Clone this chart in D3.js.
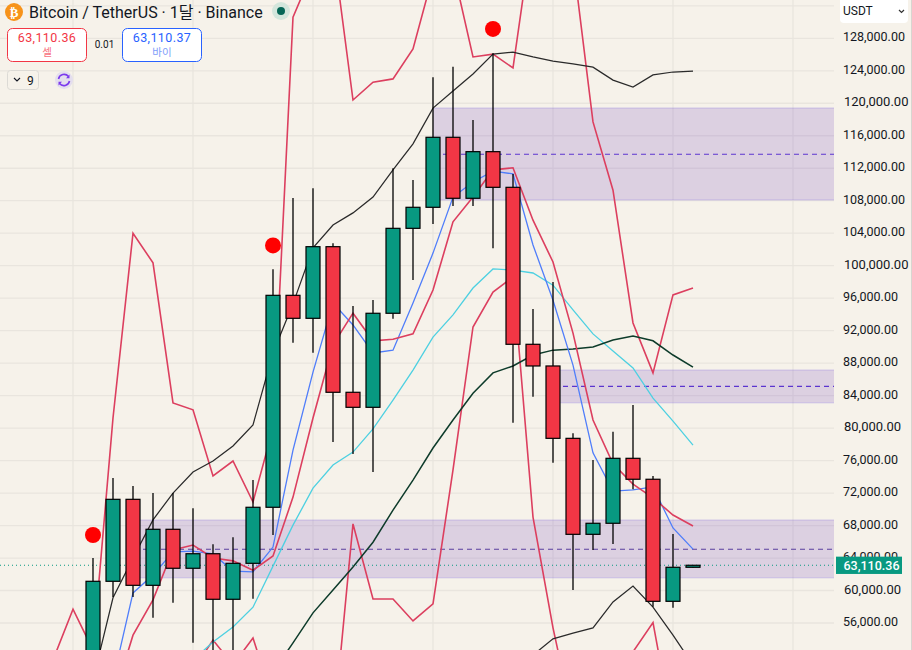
<!DOCTYPE html>
<html>
<head>
<meta charset="utf-8">
<script src="https://cdn.jsdelivr.net/npm/d3@7"></script>
<style>
  html, body { margin: 0; padding: 0; background: #f6f2ea; overflow: hidden; }
  svg { display: block; }
  text { font-family: Roboto, "Noto Sans CJK KR", sans-serif; }
</style>
</head>
<body>
<svg id="chart" width="912" height="650"></svg>
<script>
// candles, oldest first, first candle sits at index 0
const opens  = [48000, 61135, 71230, 60640, 67540, 62740, 64530, 58920, 63350, 70250, 96350, 93520, 102340, 84410, 82560, 94140, 104600, 107190, 115810, 108300, 114040, 109650, 90320, 87650, 78740, 66920, 68280, 76280, 73700, 58670, 62860];
const closes = [61135, 71230, 60640, 67540, 62740, 64530, 58920, 63350, 70250, 96350, 93520, 102340, 84410, 82560, 94140, 104600, 107190, 115810, 108300, 114040, 109650, 90320, 87650, 78740, 66920, 68280, 76280, 73700, 58670, 62860, 63110];
const highs  = [64000, 73850, 72870, 72010, 72010, 70120, 65690, 66550, 73610, 99550, 108330, 109530, 102760, 95030, 95770, 111990, 110550, 123200, 124500, 117940, 126150, 111290, 94670, 97990, 79360, 76070, 79560, 82840, 74100, 66960, 63110];
const lows   = [45000, 59200, 59200, 56650, 58500, 53570, 50830, 49600, 58990, 66840, 90520, 89290, 78290, 76800, 74590, 93470, 98240, 105130, 107350, 107350, 102140, 80670, 83870, 75740, 60060, 64990, 65730, 72460, 58010, 57880, 62840];

// indicator lines, each with the index of its first value
const upperBand = [48980, 59100, 64000, 68700, 72000, 74600, 75950, 77800, 80400, 89250, 95300, 102200, 105000, 106500, 108450, 111800, 115000, 119400, 121500, 123600, 126050, 126300, 125700, 125200, 124850, 124450, 122850, 122000, 123500, 123850, 123950];
const lowerBand = [52050, 54050, 54750, 55400, 58600, 60550, 57950, 54500, 50850];
const redTop = [51450, 57700, 52650, 81250, 104000, 100350, 83100, 82250, 74100, 75950, 70900, 80000, 130600, 136400, 139250, 120400, 122600, 123000, 126700, 135800, 136550, 125700, 126050, 124350, 141600, 140100, 137650, 117700, 109300, 92950, 86800, 96400, 97250];
const redLow = [50200, 53900, 50850, 54150, 46500, 44050, 42800, 42350, 68200, 58950, 58950, 56250, 58350, 74850, 92450, 96750, 98600, 69050, 55400, 44050, 42800, 46500, 52450, 56050, 42700];
const redFast = [46500, 54500, 58850, 65000, 65600, 64000, 63650, 62500, 64250, 71500, 81250, 90250, 94150, 90750, 90950, 91600, 97000, 105400, 108450, 111800, 112050, 105600, 100450, 91700, 81000, 75600, 73100, 71400, 69300, 67950];
const blueLine = [49000, 59700, 61900, 64750, 64850, 64500, 62400, 62300, 65350, 77300, 86900, 95400, 92700, 89250, 89600, 95400, 101550, 108450, 110300, 111650, 111300, 102550, 95750, 87750, 76950, 72250, 72400, 72750, 67700, 65100];
const cyanLine = [49000, 51450, 53650, 55500, 57950, 63000, 68050, 72600, 75450, 77050, 79900, 83450, 87150, 91200, 93950, 97250, 99600, 99450, 99100, 97600, 94550, 91600, 89500, 87400, 83700, 80850, 77900];
const darkLine = [49950, 53550, 57250, 60050, 62900, 65950, 69900, 73600, 77550, 81000, 84300, 86800, 87650, 89000, 89600, 89750, 90000, 90850, 91350, 90750, 89000, 87500];

// zones: start index, top, bottom, dashed mid line
const zoneStart  = [2, 17, 23];
const zoneTop    = [68680, 119420, 87150];
const zoneBottom = [61580, 108090, 83130];
const zoneMid    = [65080, 113720, 85150];

// red signal dots
const dotIndex = [0, 9, 20];
const dotPrice = [66840, 102490, 129150];

const lastPrice = 63110.36;
const priceTicks = d3.range(56000, 128001, 4000);
const gridPrices = d3.range(56000, 132001, 4000);
const gridIndex = [-1, 5, 11, 17, 23, 29, 35];

const green = "#089981";
const red = "#f23645";
const plotRight = 834;

const x = d3.scaleLinear().domain([0, 30]).range([93, 693]);
const y = d3.scaleLinear().domain([56000, 128000]).range([623, 38.3]);

const svg = d3.select("#chart");

svg.append("defs").append("clipPath").attr("id", "plot")
   .append("rect").attr("width", plotRight).attr("height", 650);

const plot = svg.append("g").attr("clip-path", "url(#plot)");

// grid
plot.append("g").selectAll("line").data(gridPrices).enter().append("line")
    .attr("x1", 0).attr("x2", plotRight)
    .attr("y1", d => y(d)).attr("y2", d => y(d))
    .attr("stroke", "#e9e5de").attr("stroke-width", 1.3);
plot.append("g").selectAll("line").data(gridIndex).enter().append("line")
    .attr("x1", d => x(d)).attr("x2", d => x(d))
    .attr("y1", 0).attr("y2", 650)
    .attr("stroke", "#e9e5de").attr("stroke-width", 1.3);

// zones
zoneStart.forEach((start, i) => {
  plot.append("rect")
      .attr("x", x(start))
      .attr("y", y(zoneTop[i]))
      .attr("width", plotRight - x(start))
      .attr("height", y(zoneBottom[i]) - y(zoneTop[i]))
      .attr("fill", "rgba(126,87,194,0.22)");
  plot.append("line")
      .attr("x1", x(start)).attr("x2", plotRight)
      .attr("y1", y(zoneTop[i])).attr("y2", y(zoneTop[i]))
      .attr("stroke", "rgba(110,90,230,0.18)").attr("stroke-width", 1.5);
  plot.append("line")
      .attr("x1", x(start)).attr("x2", plotRight)
      .attr("y1", y(zoneBottom[i])).attr("y2", y(zoneBottom[i]))
      .attr("stroke", "rgba(110,90,230,0.18)").attr("stroke-width", 1.5);
  plot.append("line")
      .attr("x1", x(start) + 10).attr("x2", plotRight)
      .attr("y1", y(zoneMid[i])).attr("y2", y(zoneMid[i]))
      .attr("stroke", i == 0 ? "#5a3f9e" : "#5b35cf")
      .attr("stroke-width", 1.2)
      .attr("stroke-dasharray", "5,4");
});

// current price dotted line
plot.append("line")
    .attr("x1", 0).attr("x2", plotRight)
    .attr("y1", y(lastPrice)).attr("y2", y(lastPrice))
    .attr("stroke", green).attr("stroke-width", 1)
    .attr("stroke-dasharray", "1,3");

// indicator lines
const series = [
  { values: redTop, start: -2, color: "#dc3f5f", width: 1.6 },
  { values: redLow, start: 5, color: "#dc3f5f", width: 1.6 },
  { values: cyanLine, start: 4, color: "#4dd0e1", width: 1.3 },
  { values: darkLine, start: 9, color: "#0d3b2a", width: 1.5 },
  { values: upperBand, start: 0, color: "#2a2a2a", width: 1.25 },
  { values: lowerBand, start: 22, color: "#2a2a2a", width: 1.25 },
  { values: blueLine, start: 1, color: "#4f7dfa", width: 1.3 },
  { values: redFast, start: 1, color: "#dc3f5f", width: 1.6 }
];

series.forEach(s => {
  const line = d3.line()
                 .x((d, i) => x(s.start + i))
                 .y(d => y(d));
  plot.append("path")
      .attr("d", line(s.values))
      .attr("fill", "none")
      .attr("stroke", s.color)
      .attr("stroke-width", s.width);
});

// candles
const candles = plot.append("g").selectAll("g").data(d3.range(opens.length)).enter().append("g");

candles.append("line")
       .attr("x1", d => x(d)).attr("x2", d => x(d))
       .attr("y1", d => y(highs[d])).attr("y2", d => y(lows[d]))
       .attr("stroke", "#000").attr("stroke-width", 1.3);

candles.append("rect")
       .attr("x", d => x(d) - 7)
       .attr("width", 14)
       .attr("y", d => y(Math.max(opens[d], closes[d])))
       .attr("height", d => Math.abs(y(opens[d]) - y(closes[d])))
       .attr("fill", d => closes[d] >= opens[d] ? green : red)
       .attr("stroke", "#000").attr("stroke-width", 1.2);

plot.append("g").selectAll("circle").data(dotIndex).enter().append("circle")
    .attr("cx", d => x(d))
    .attr("cy", (d, i) => y(dotPrice[i]))
    .attr("r", 8)
    .attr("fill", "#ff0000");

// price axis
const axis = d3.axisRight(y)
               .tickValues(priceTicks)
               .tickSize(0)
               .tickPadding(0)
               .tickFormat(d3.format(",.2f"));

const axisG = svg.append("g").attr("transform", "translate(843,-1.5)").call(axis);
axisG.select(".domain").remove();
axisG.selectAll("text")
     .attr("fill", "#131722")
     .style("font-family", "Roboto, sans-serif")
     .attr("dx", d => d % 20000 == 0 ? 1 : 0)
     .style("font-size", d => d % 20000 == 0 ? "13px" : "12.5px")
     .style("font-weight", 400);

svg.append("rect").attr("x", 911).attr("y", 0).attr("width", 1).attr("height", 650).attr("fill", "#d8d5d0");

// last price tag
svg.append("rect")
   .attr("x", 836).attr("y", y(lastPrice) - 8.6)
   .attr("width", 66).attr("height", 17.3)
   .attr("fill", green);
svg.append("text")
   .attr("x", 843.5).attr("y", y(lastPrice) + 4.4)
   .attr("fill", "#fff")
   .style("font-size", "12.5px")
   .style("font-weight", 500)
   .text(d3.format(",.2f")(lastPrice));

// currency box
svg.append("rect")
   .attr("x", 840).attr("y", -4).attr("width", 68).attr("height", 27).attr("rx", 4)
   .attr("fill", "#fff");
svg.append("text")
   .attr("x", 843).attr("y", 15)
   .attr("fill", "#131722")
   .style("font-size", "12px")
   .text("USDT");
svg.append("path")
   .attr("d", "M899,10 L901.5,12.5 L904,10")
   .attr("fill", "none").attr("stroke", "#333").attr("stroke-width", 1.2);

// header
svg.append("circle").attr("cx", 14).attr("cy", 12).attr("r", 9).attr("fill", "#f7931a");
svg.append("text")
   .attr("x", 14).attr("y", 16.5)
   .attr("text-anchor", "middle")
   .attr("fill", "#fff")
   .style("font-size", "13px").style("font-weight", 700)
   .style("font-family", "DejaVu Sans")
   .text("₿");
svg.append("text")
   .attr("x", 29).attr("y", 17.5)
   .attr("fill", "#131722")
   .style("font-size", "16px")
   .text("Bitcoin / TetherUS · 1달 · Binance");
svg.append("circle").attr("cx", 281).attr("cy", 11).attr("r", 9).attr("fill", "#d3e6dc");
svg.append("circle").attr("cx", 281).attr("cy", 11).attr("r", 4).attr("fill", "#056656");

const quoteBoxes = [
  { left: 7.5, color: "#f23645", label: "#f7707c", price: "63,110.36", name: "셀" },
  { left: 122.5, color: "#2962ff", label: "#7d9dfa", price: "63,110.37", name: "바이" }
];
quoteBoxes.forEach(b => {
  svg.append("rect")
     .attr("x", b.left).attr("y", 28.5).attr("width", 79).attr("height", 33).attr("rx", 5)
     .attr("fill", "#fff").attr("stroke", b.color);
  svg.append("text")
     .attr("x", b.left + 39.5).attr("y", 42)
     .attr("text-anchor", "middle")
     .attr("fill", b.color)
     .style("font-size", "12.5px").style("letter-spacing", "0.4px")
     .text(b.price);
  svg.append("text")
     .attr("x", b.left + 39.5).attr("y", 56)
     .attr("text-anchor", "middle")
     .attr("fill", b.label)
     .style("font-size", "10.5px")
     .text(b.name);
});
svg.append("text")
   .attr("x", 104.5).attr("y", 48)
   .attr("text-anchor", "middle")
   .attr("fill", "#131722")
   .style("font-size", "10px")
   .text("0.01");

svg.append("rect")
   .attr("x", 7.5).attr("y", 70.5).attr("width", 31).attr("height", 19).attr("rx", 3)
   .attr("fill", "#f6f2ea").attr("stroke", "#dcdad5");
svg.append("path")
   .attr("d", "M14,78 L17,81 L20,78")
   .attr("fill", "none").attr("stroke", "#131722").attr("stroke-width", 1.1);
svg.append("text")
   .attr("x", 27).attr("y", 84.5)
   .attr("fill", "#131722")
   .style("font-size", "12px")
   .text("9");

svg.append("circle").attr("cx", 64).attr("cy", 80).attr("r", 9).attr("fill", "#e4deee");
svg.append("path")
   .attr("d", "M58.5,79 A5.7,5.7 0 0 1 68.5,76.5 M69.5,81 A5.7,5.7 0 0 1 59.5,83.5")
   .attr("fill", "none").attr("stroke", "#7c3aed").attr("stroke-width", 1.6);
svg.append("path")
   .attr("d", "M69.5,74.5 L69.5,78.2 L66,78.2 Z M58.5,85.5 L58.5,81.8 L62,81.8 Z")
   .attr("fill", "#7c3aed");
</script>
</body>
</html>
